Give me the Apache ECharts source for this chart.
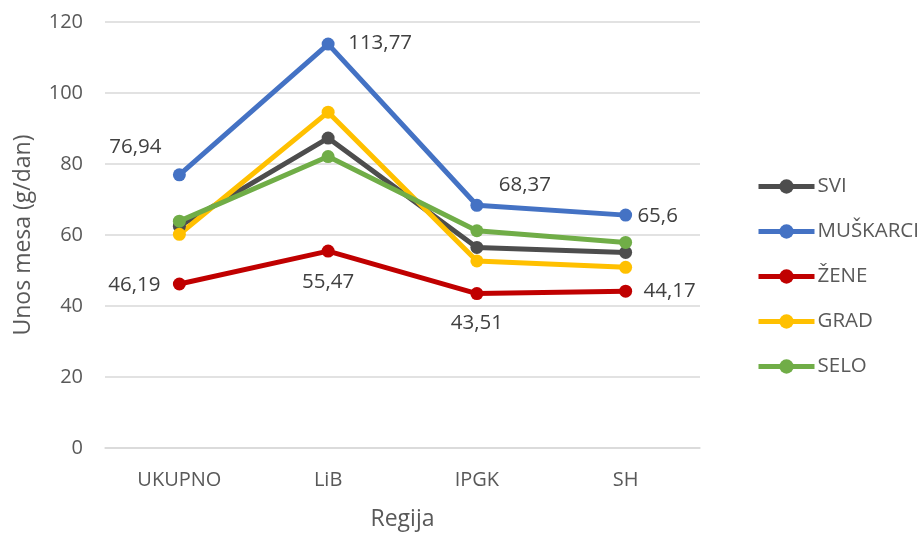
<!DOCTYPE html>
<html>
<head>
<meta charset="utf-8">
<script src="https://cdn.jsdelivr.net/npm/echarts@6/dist/echarts.min.js"></script>
<style>
  html, body { margin: 0; padding: 0; background: #fff; }
  #chart { width: 917px; height: 536px; }
</style>
</head>
<body>
<div id="chart"></div>
<script>
// kategorije i vrijednosti
const regije = ['UKUPNO', 'LiB', 'IPGK', 'SH'];
const svi = [62.5, 87.3, 56.5, 55.1];
const muskarci = [76.94, 113.77, 68.37, 65.6];
const zene = [46.19, 55.47, 43.51, 44.17];
const grad = [60.2, 94.6, 52.7, 50.9];
const selo = [63.9, 82.1, 61.2, 57.9];

// pomaci oznaka (px) za serije s oznakama
const muskarciOffsets = [[-44, -28], [52, -1], [48, -20], [32, 1]];
const zeneOffsets = [[-45, 1], [0, 31], [0, 30], [44, 0]];

const font = '"Open Sans", "Noto Sans", sans-serif';

function withLabels(values, offsets) {
  return values.map((v, i) => ({
    value: v,
    label: { show: true, position: 'inside', offset: offsets[i] }
  }));
}

function serija(name, color, data) {
  return {
    name: name,
    type: 'line',
    data: data,
    symbol: 'circle',
    symbolSize: 13,
    color: color,
    lineStyle: { width: 5, color: color },
    itemStyle: { color: color },
    label: {
      show: false,
      color: '#404040',
      fontSize: 20.5,
      fontFamily: font,
      formatter: p => String(p.value).replace('.', ',')
    },
    emphasis: { disabled: true }
  };
}

const chart = echarts.init(document.getElementById('chart'));
chart.setOption({
  animation: false,
  textStyle: { fontFamily: font },
  grid: { left: 105, right: 217, top: 22, bottom: 85 },
  legend: {
    orient: 'vertical',
    left: 751,
    top: 171,
    itemWidth: 56,
    itemHeight: 18,
    itemGap: 24,
    lineStyle: { width: 5 },
    textStyle: { color: '#595959', fontSize: 20.5, fontFamily: font, padding: [0, 0, 0, -2] },
    data: ['SVI', 'MUŠKARCI', 'ŽENE', 'GRAD', 'SELO']
  },
  xAxis: {
    type: 'category',
    data: regije,
    boundaryGap: true,
    axisLine: { show: true, lineStyle: { color: '#d9d9d9', width: 1.5 } },
    axisTick: { show: false },
    axisLabel: { color: '#595959', fontSize: 20, margin: 22 },
    name: 'Regija',
    nameLocation: 'middle',
    nameGap: 60,
    nameTextStyle: { color: '#595959', fontSize: 23 }
  },
  yAxis: {
    type: 'value',
    min: 0,
    max: 120,
    interval: 20,
    axisLine: { show: false },
    axisTick: { show: false },
    axisLabel: { color: '#595959', fontSize: 20, margin: 22 },
    splitLine: { lineStyle: { color: '#d9d9d9', width: 1.5 } },
    name: 'Unos mesa (g/dan)',
    nameLocation: 'middle',
    nameGap: 70,
    nameTextStyle: { color: '#595959', fontSize: 23 }
  },
  series: [
    serija('SVI', '#4d4d4d', svi),
    serija('MUŠKARCI', '#4472C4', withLabels(muskarci, muskarciOffsets)),
    serija('ŽENE', '#C00000', withLabels(zene, zeneOffsets)),
    serija('GRAD', '#FFC000', grad),
    serija('SELO', '#70AD47', selo)
  ]
});
</script>
</body>
</html>
